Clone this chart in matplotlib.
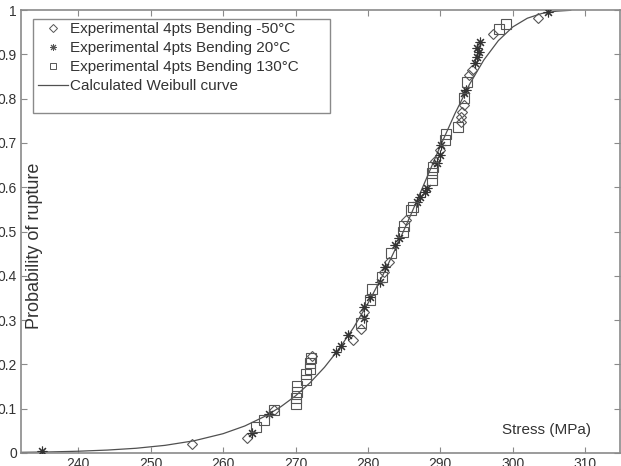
import matplotlib
matplotlib.use("Agg")
import matplotlib.pyplot as plt
from matplotlib.lines import Line2D
from matplotlib.patches import Rectangle

plt.rcParams['font.family'] = ['Liberation Sans', 'DejaVu Sans']

# -50°C series (diamonds)
dia_x = [255.7, 263.3, 267.0, 272.3, 278.0, 279.0, 279.4, 282.2, 282.9, 285.3,
         289.2, 289.9, 292.8, 292.8, 293.0, 293.2, 293.9, 294.4, 297.3, 303.5]
dia_y = [0.020, 0.034, 0.097, 0.219, 0.255, 0.280, 0.318, 0.409, 0.431, 0.526,
         0.660, 0.684, 0.747, 0.758, 0.770, 0.786, 0.853, 0.865, 0.946, 0.981]

# 20°C series (asterisks)
ast_x = [235.0, 264.0, 266.3, 275.6, 276.3, 277.2, 279.5, 279.5, 280.3, 281.6,
         282.4, 283.8, 284.3, 286.8, 287.2, 287.9, 288.2, 289.6, 289.9, 290.1,
         293.2, 293.5, 294.8, 295.1, 295.4, 295.1, 295.5, 304.9]
ast_y = [0.005, 0.045, 0.088, 0.228, 0.242, 0.266, 0.305, 0.330, 0.352, 0.386,
         0.420, 0.470, 0.485, 0.567, 0.578, 0.589, 0.598, 0.655, 0.673, 0.695,
         0.813, 0.819, 0.880, 0.894, 0.905, 0.914, 0.928, 0.995]

# 130°C series (squares)
sq_x = [264.6, 265.7, 267.0, 270.0, 270.0, 270.2, 270.2, 271.4, 271.5, 272.0,
        272.0, 272.2, 279.0, 280.3, 280.6, 282.0, 283.2, 284.9, 285.0, 285.9,
        286.2, 288.9, 288.9, 289.0, 290.7, 290.8, 292.5, 293.3, 293.7, 298.1, 299.1]
sq_y = [0.059, 0.074, 0.097, 0.111, 0.124, 0.138, 0.151, 0.165, 0.178, 0.190,
        0.203, 0.214, 0.293, 0.345, 0.370, 0.397, 0.451, 0.499, 0.512, 0.549,
        0.556, 0.616, 0.632, 0.646, 0.707, 0.720, 0.736, 0.801, 0.837, 0.957, 0.968]

# Calculated Weibull curve
cur_x = [232, 236, 240, 244, 248, 252, 256, 260, 263, 266, 268, 270, 272, 274,
         276, 278, 280, 282, 284, 286, 288, 290, 292, 294, 296, 298, 300, 302,
         304, 306, 308]
cur_y = [0.0015, 0.0024, 0.0040, 0.0066, 0.0107, 0.0173, 0.0276, 0.0436, 0.061,
         0.0846, 0.1048, 0.129, 0.1585, 0.1935, 0.2348, 0.2826, 0.3377, 0.3996,
         0.4676, 0.5408, 0.6168, 0.6930, 0.7657, 0.8315, 0.8872, 0.9308, 0.9618,
         0.9814, 0.9922, 0.9973, 0.9993]

xticks = [240, 250, 260, 270, 280, 290, 300, 310]
yticks = [0, 0.1, 0.2, 0.3, 0.4, 0.5, 0.6, 0.7, 0.8, 0.9, 1]
ytick_labels = ['0', '0.1', '0.2', '0.3', '0.4', '0.5', '0.6', '0.7', '0.8', '0.9', '1']

labels = ['Experimental 4pts Bending -50°C', 'Experimental 4pts Bending 20°C',
          'Experimental 4pts Bending 130°C', 'Calculated Weibull curve']

mc = '#555555'
tc = '#333333'
sc = '#8a8a8a'

fig = plt.figure(figsize=(6.21, 4.66), dpi=100)
ax = fig.add_axes([21/621, 13/466, 599/621, 443/466])

ax.plot(cur_x, cur_y, color='#505050', lw=0.9, zorder=2)
ax.plot(dia_x, dia_y, ls='none', marker='D', ms=5.5, mfc='none', mec=mc, mew=0.8, zorder=3)
ax.plot(ast_x, ast_y, ls='none', marker=(8, 2, 0), ms=7, mec='#333333', mew=0.8, zorder=3)
ax.plot(sq_x, sq_y, ls='none', marker='s', ms=6.5, mfc='none', mec=mc, mew=0.8, zorder=3)

ax.set_xlim(232.1, 314.8)
ax.set_ylim(0, 1)
ax.set_xticks(xticks)
ax.set_xticklabels([str(t) for t in xticks])
ax.set_yticks(yticks)
ax.set_yticklabels(ytick_labels)
ax.tick_params(direction='in', length=4, width=0.8, color=sc, labelsize=10,
               labelcolor=tc, top=True, right=True, pad=3)
for s in ax.spines.values():
    s.set_color(sc)
    s.set_linewidth(1.2)

ax.text(0.0225, 0.468, 'Probability of rupture', rotation=90, ha='center', va='center',
        fontsize=13, color=tc, transform=ax.transAxes)
ax.text(0.878, 0.052, 'Stress (MPa)', ha='center', va='center', fontsize=11, color=tc,
        transform=ax.transAxes)

# legend box (drawn as a patch, like the reference's roomy frame)
x0 = (33 - 21) / 599
x1 = (330 - 21) / 599
y0 = (453 - 113) / 443
y1 = (453 - 19) / 443
ax.add_patch(Rectangle((x0, y0), x1 - x0, y1 - y0, transform=ax.transAxes,
                       facecolor='white', edgecolor=sc, lw=1.0, zorder=4))

handles = [
    Line2D([], [], ls='none', marker='D', ms=4, mfc='none', mec=mc, mew=0.7),
    Line2D([], [], ls='none', marker=(8, 2, 0), ms=5, mec=mc, mew=0.7),
    Line2D([], [], ls='none', marker='s', ms=4.5, mfc='none', mec=mc, mew=0.7),
    Line2D([], [], color='#505050', lw=0.9),
]
leg = ax.legend(handles, labels, loc='upper left',
                bbox_to_anchor=((38 - 21) / 599, (453 - 22) / 443),
                borderaxespad=0, fontsize=11, frameon=False,
                handlelength=1.96, handletextpad=0.13,
                labelspacing=0.33, borderpad=0)
leg.set_zorder(5)
for t in leg.get_texts():
    t.set_color(tc)

fig.savefig('out.png', dpi=100)
